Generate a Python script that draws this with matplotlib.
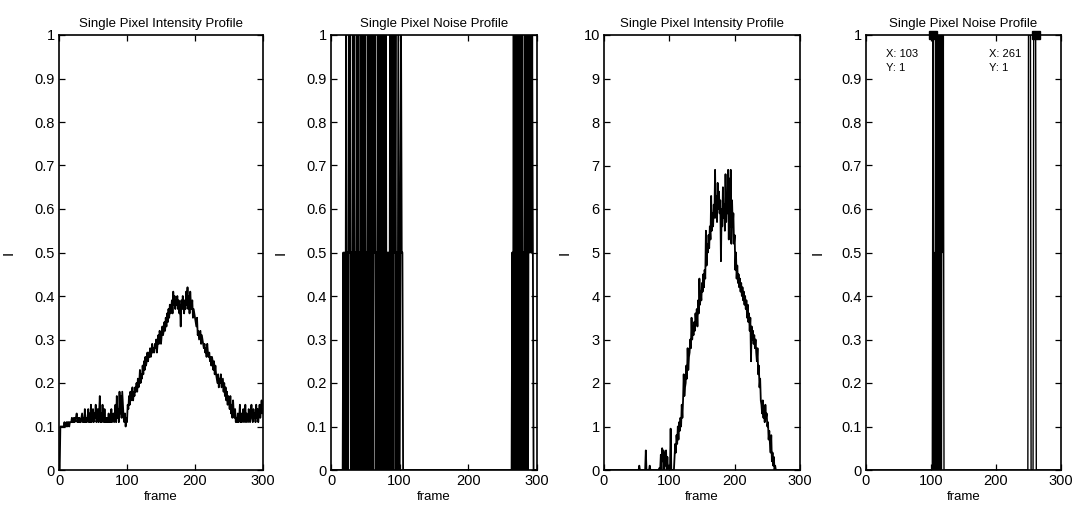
import numpy as np
import matplotlib
matplotlib.use('Agg')
import matplotlib.pyplot as plt
from matplotlib.ticker import FuncFormatter

plt.rcParams['font.family'] = ['Liberation Sans', 'DejaVu Sans']

frames = np.arange(1, 301)

# pixel 1: intensity (0..1) and thresholded noise profile
intensity_a = [
    0.00, 0.10, 0.10, 0.10, 0.10, 0.10, 0.10, 0.11, 0.10, 0.10,
    0.11, 0.10, 0.11, 0.11, 0.10, 0.11, 0.11, 0.11, 0.12, 0.11,
    0.11, 0.12, 0.11, 0.12, 0.12, 0.13, 0.11, 0.12, 0.11, 0.12,
    0.11, 0.11, 0.12, 0.13, 0.11, 0.12, 0.11, 0.14, 0.11, 0.12,
    0.11, 0.12, 0.14, 0.11, 0.13, 0.11, 0.15, 0.11, 0.12, 0.14,
    0.11, 0.13, 0.12, 0.15, 0.11, 0.12, 0.14, 0.11, 0.13, 0.17,
    0.11, 0.13, 0.11, 0.15, 0.12, 0.11, 0.14, 0.11, 0.12, 0.11,
    0.12, 0.11, 0.13, 0.11, 0.12, 0.11, 0.14, 0.11, 0.12, 0.13,
    0.11, 0.12, 0.15, 0.11, 0.17, 0.12, 0.14, 0.11, 0.18, 0.13,
    0.17, 0.12, 0.18, 0.15, 0.12, 0.11, 0.13, 0.10, 0.12, 0.11,
    0.15, 0.14, 0.17, 0.15, 0.18, 0.16, 0.17, 0.19, 0.16, 0.18,
    0.17, 0.19, 0.18, 0.20, 0.18, 0.21, 0.19, 0.20, 0.23, 0.20,
    0.22, 0.21, 0.24, 0.22, 0.25, 0.23, 0.26, 0.24, 0.25, 0.27,
    0.25, 0.27, 0.26, 0.28, 0.26, 0.27, 0.29, 0.27, 0.28, 0.27,
    0.29, 0.28, 0.30, 0.27, 0.29, 0.31, 0.29, 0.32, 0.30, 0.29,
    0.31, 0.33, 0.31, 0.32, 0.34, 0.32, 0.35, 0.33, 0.36, 0.34,
    0.37, 0.35, 0.38, 0.36, 0.37, 0.39, 0.36, 0.41, 0.38, 0.40,
    0.37, 0.39, 0.38, 0.40, 0.37, 0.39, 0.36, 0.38, 0.33, 0.39,
    0.37, 0.40, 0.38, 0.36, 0.39, 0.37, 0.41, 0.38, 0.42, 0.37,
    0.40, 0.36, 0.41, 0.38, 0.37, 0.39, 0.35, 0.37, 0.36, 0.35,
    0.34, 0.33, 0.35, 0.31, 0.32, 0.30, 0.31, 0.32, 0.29, 0.31,
    0.30, 0.29, 0.28, 0.29, 0.27, 0.28, 0.26, 0.29, 0.27, 0.26,
    0.27, 0.25, 0.26, 0.24, 0.26, 0.25, 0.23, 0.25, 0.22, 0.24,
    0.22, 0.21, 0.20, 0.22, 0.19, 0.21, 0.20, 0.22, 0.19, 0.20,
    0.21, 0.18, 0.20, 0.17, 0.19, 0.16, 0.18, 0.15, 0.17, 0.16,
    0.14, 0.17, 0.13, 0.15, 0.12, 0.16, 0.13, 0.12, 0.14, 0.11,
    0.12, 0.11, 0.13, 0.11, 0.12, 0.15, 0.11, 0.13, 0.11, 0.12,
    0.14, 0.11, 0.12, 0.15, 0.11, 0.13, 0.12, 0.11, 0.14, 0.12,
    0.11, 0.13, 0.15, 0.12, 0.11, 0.14, 0.12, 0.13, 0.11, 0.15,
    0.12, 0.14, 0.11, 0.13, 0.15, 0.12, 0.14, 0.16, 0.13, 0.14,
]

noise_a = ([0.0] * 17 + [
    0.5, 0, 0.5, 0, 1, 0, 0.5, 0, 1, 0.5,
    1, 0, 0.5, 0, 1, 0, 1, 0, 0.5, 0,
    1, 0, 1, 0, 0.5, 0, 1, 0, 1, 0,
    1, 0, 1, 0, 0.5, 0, 1, 0, 1, 0,
    1, 0, 1, 0, 1, 0.5, 1, 0, 0.5, 0,
    1, 0, 1, 0, 1, 0, 1, 0, 1, 0,
    1, 0, 1, 0, 0.5, 0, 0.5, 0, 1, 0,
    1, 0, 1, 0, 1, 0.5, 1, 0, 0.5, 0,
    1, 0.5, 0, 0.5, 1, 0.5, 0.5, 0,
] + [0.0] * 158 + [
    0.5, 0, 1, 0, 0.5, 0, 1, 0, 1, 0,
    1, 0, 1, 0, 1, 0, 0.5, 0, 1, 0,
    1, 0, 1, 0, 1, 0.5, 1, 0.5, 0.5, 1,
    0.5, 0,
] + [0.0] * 5)

# pixel 2: intensity (0..10) and noise profile
intensity_b = ([0.0] * 50 + [
    0, 0, 0, 0.1, 0, 0, 0, 0, 0, 0,
    0, 0, 0, 0.45, 0, 0, 0, 0, 0, 0.1,
    0, 0, 0, 0, 0, 0, 0, 0, 0, 0,
    0, 0, 0, 0, 0.05, 0, 0.35, 0, 0.5, 0.2,
    0.45, 0, 0.4, 0.1, 0.45, 0, 0.3, 0, 0.1, 0,
    0, 0.95, 0, 0, 0, 0, 0, 0.3, 0.6, 0.4,
    0.8, 0.6, 1.0, 0.7, 1.1, 0.9, 1.2, 1.0, 1.5, 1.2,
    1.6, 2.2, 1.7, 1.9, 2.0, 2.4, 2.1, 2.8, 2.3, 2.6,
    2.7, 3.0, 2.8, 3.5, 3.0, 3.3, 3.1, 3.4, 3.2, 3.6,
    3.4, 3.7, 3.3, 3.9, 3.6, 4.4, 3.8, 4.1, 3.9, 4.3,
    4.1, 4.5, 4.2, 4.6, 4.4, 5.5, 4.7, 5.2, 5.0, 5.4,
    5.1, 5.6, 5.3, 6.3, 5.5, 5.9, 5.6, 6.1, 5.8, 6.9,
    5.8, 6.3, 5.7, 6.6, 6.0, 6.4, 5.9, 6.2, 4.8, 6.0,
    5.6, 6.5, 5.8, 6.1, 5.5, 6.8, 5.7, 6.3, 5.9, 6.9,
    5.3, 6.7, 5.6, 6.9, 5.2, 6.2, 5.6, 5.9, 5.2, 5.4,
    4.6, 5.0, 4.4, 4.7, 4.3, 4.5, 4.2, 4.4, 4.1, 4.3,
    4.0, 4.2, 3.9, 4.1, 3.8, 4.0, 3.7, 3.9, 3.5, 3.8,
    3.4, 3.6, 3.2, 3.5, 2.5, 3.3, 3.0, 3.2, 2.9, 3.1,
    2.8, 3.0, 2.7, 2.5, 2.8, 2.2, 2.4, 1.9, 2.1, 1.6,
    1.5, 1.3, 1.6, 1.2, 1.4, 1.1, 1.5, 1.2, 1.3, 1.0,
    1.1, 0.7, 0.9, 0.6, 0.4, 0.8, 0.2, 0.4, 0.1, 0.3,
    0, 0.1, 0, 0, 0, 0, 0, 0, 0, 0,
] + [0.0] * 30)

noise_b = ([0.0] * 102
           + [1, 0, 0.5, 0, 1, 0, 1, 0, 1, 0, 1, 0, 1, 0, 1, 0.5, 1]
           + [0.0] * 130 + [1, 1, 1, 1] + [0.0] * 4 + [1, 1, 1, 1] + [0.0] * 39)

# data tips shown on the last panel
tip_x = [103, 261]
tip_y = [1, 1]

panels = [
    ('Single Pixel Intensity Profile', intensity_a, 1, 1.3),
    ('Single Pixel Noise Profile', noise_a, 1, 1.3),
    ('Single Pixel Intensity Profile', intensity_b, 10, 1.3),
    ('Single Pixel Noise Profile', noise_b, 1, 1.0),
]
W, H = 1074, 514
ax_px = [(59, 204), (331, 206), (604, 196), (866, 195)]
ylab_px = [16, 288, 572, 825]

fig = plt.figure(figsize=(W / 100, H / 100), dpi=100)
fmt = FuncFormatter(lambda v, p: f'{v:g}')

for i, (title, vals, ymax, lw) in enumerate(panels):
    left, width = ax_px[i]
    ax = fig.add_axes([left / W, 44 / H, width / W, 435 / H])
    ax.plot(frames, vals, color='black', linewidth=lw)
    ax.set_xlim(0, 300)
    ax.set_ylim(0, ymax)
    ax.set_xticks([0, 100, 200, 300])
    if ymax == 1:
        ax.set_yticks(np.linspace(0, 1, 11))
    else:
        ax.set_yticks(np.arange(0, 11))
    ax.yaxis.set_major_formatter(fmt)
    ax.tick_params(direction='in', top=True, right=True, length=4,
                   width=0.9, labelsize=10.5, pad=3)
    for sp in ax.spines.values():
        sp.set_linewidth(1.2)
    ax.set_title(title, fontsize=9.5, pad=6)
    ax.set_xlabel('frame', fontsize=9.5, labelpad=2)
    ax.set_ylabel('I', fontsize=11)
    ax.yaxis.set_label_coords((ylab_px[i] - left) / width, 0.5)

    if i == 3:
        ax.plot(tip_x, tip_y, 's', color='black', markersize=6, clip_on=False, zorder=5)
        for tx, ty in zip(tip_x, tip_y):
            ax.annotate(f'X: {tx}\nY: {ty}', (tx, ty), xytext=(-47, -14),
                        textcoords='offset pixels', ha='left', va='top',
                        fontsize=8, linespacing=1.5)

fig.savefig('out.png', dpi=100)
